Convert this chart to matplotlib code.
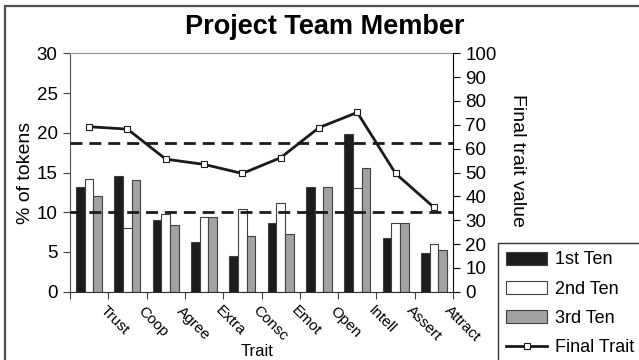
import matplotlib
matplotlib.use("Agg")
import matplotlib.pyplot as plt
import matplotlib.patches as mpatches
import matplotlib.lines as mlines
import matplotlib.transforms as mtransforms
import numpy as np

plt.rcParams['font.family'] = ['Liberation Sans', 'DejaVu Sans']

traits = ["Trust", "Coop", "Agree", "Extra", "Consc", "Emot", "Open", "Intell", "Assert", "Attract"]
first_ten = [13.2, 14.6, 9.0, 6.3, 4.5, 8.7, 13.2, 19.8, 6.7, 4.9]
second_ten = [14.2, 8.0, 9.8, 9.4, 10.4, 11.1, 10.1, 13.1, 8.7, 6.0]
third_ten = [12.1, 14.0, 8.4, 9.4, 7.0, 7.3, 13.2, 15.6, 8.7, 5.3]
final_trait = [69.2, 68.2, 55.6, 53.4, 49.6, 56.2, 68.8, 75.2, 49.6, 35.4]
upper_ref = 62.5
lower_ref = 33.5

W, H = 639, 360
fig = plt.figure(figsize=(W / 100, H / 100), dpi=100)

# outer chart frame (open on the right and bottom)
frame = mpatches.Rectangle((4.5 / W, -0.2), 1.5, 1.2 - 5.5 / H,
                           transform=fig.transFigure, fill=False,
                           edgecolor='#505050', linewidth=1.6)
fig.patches.append(frame)

ax = fig.add_axes([70 / W, 1 - 291.7 / H, (453 - 70) / W, (291.7 - 53.3) / H])
x = np.arange(len(traits))
bw = 0.227
edge = '#404040'
ax.bar(x - bw, first_ten, bw, color='#1c1c1c', edgecolor=edge, linewidth=0.8)
ax.bar(x, second_ten, bw, color='white', edgecolor=edge, linewidth=0.8)
ax.bar(x + bw, third_ten, bw, color='#a2a2a2', edgecolor=edge, linewidth=0.8)

ax.set_xlim(-0.5, len(traits) - 0.5)
ax.set_ylim(0, 30)
ax.set_yticks(np.arange(0, 31, 5))
ax.tick_params(axis='y', labelsize=13.5, direction='out', length=5, color='#404040', pad=4)
ax.set_xticks(np.arange(-0.5, len(traits), 1.0))
ax.set_xticklabels([])
ax.tick_params(axis='x', direction='out', length=5, color='#404040')
ax.spines['top'].set_color('#909090')
ax.spines['left'].set_color('#505050')
ax.spines['bottom'].set_color('#303030')
ax.spines['right'].set_visible(False)
ax.set_ylabel("% of tokens", fontsize=14, labelpad=2)

# rotated category labels
offset = mtransforms.ScaledTranslation(0, -12 / 100, fig.dpi_scale_trans)
for i, t in enumerate(traits):
    ax.text(i + 0.47, 0, t, transform=ax.transData + offset, rotation=-45,
            rotation_mode='anchor', ha='left', va='top', fontsize=11)
fig.text(257 / W, 1 - 351 / H, "Trait", ha='center', va='center', fontsize=12)

ax2 = ax.twinx()
ax2.set_ylim(0, 100)
ax2.set_yticks(np.arange(0, 101, 10))
ax2.tick_params(axis='y', labelsize=13.5, direction='out', length=5, pad=4)
for s in ['top', 'left', 'bottom']:
    ax2.spines[s].set_visible(False)
ax2.spines['right'].set_color('black')
ax2.set_ylabel("Final trait value", fontsize=14, rotation=-90, labelpad=16)
ax2.yaxis.set_label_coords(1.19, 0.55)

for v in (upper_ref, lower_ref):
    ax2.axhline(v, color='#1a1a1a', linewidth=2, dashes=(4.3, 2.5))

ax2.plot(x, final_trait, color='#1a1a1a', linewidth=2, marker='s', markersize=5,
         markerfacecolor='white', markeredgecolor='#1a1a1a', markeredgewidth=0.8)

fig.text(325 / W, 1 - 27 / H, "Project Team Member", ha='center', va='center',
         fontsize=19.5, fontweight='bold')

handles = [
    mpatches.Patch(facecolor='#1c1c1c', edgecolor=edge, linewidth=0.8),
    mpatches.Patch(facecolor='white', edgecolor=edge, linewidth=0.8),
    mpatches.Patch(facecolor='#a2a2a2', edgecolor=edge, linewidth=0.8),
    mlines.Line2D([], [], color='#1a1a1a', linewidth=2, marker='s', markersize=5,
                  markerfacecolor='white', markeredgewidth=0.8),
]
leg = fig.legend(handles, ["1st Ten", "2nd Ten", "3rd Ten", "Final Trait"],
                 loc='upper left', bbox_to_anchor=(497.7 / W, 1 - 243.3 / H),
                 fontsize=13, frameon=True, fancybox=False, edgecolor='black',
                 handlelength=2.3, handleheight=0.75, labelspacing=0.68,
                 borderpad=0.45, handletextpad=0.4, borderaxespad=0)
leg.get_frame().set_linewidth(1.0)

fig.savefig("out.png", dpi=100)
